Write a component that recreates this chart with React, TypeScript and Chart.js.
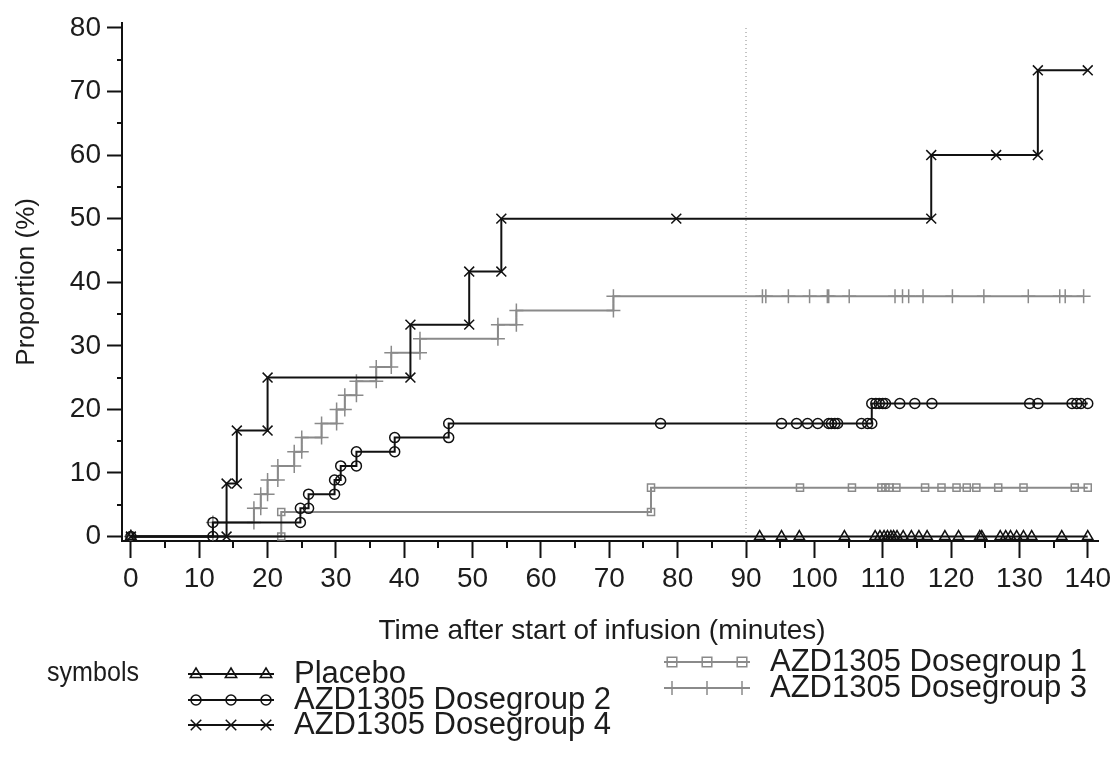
import React, { useEffect, useRef } from 'react';
import { Chart, registerables } from 'chart.js';

Chart.register(...registerables);

// ---- axis ticks ----
const xTicks = [0, 10, 20, 30, 40, 50, 60, 70, 80, 90, 100, 110, 120, 130, 140];
const xMinorTicks = [5, 15, 25, 35, 45, 55, 65, 75, 85, 95, 105, 115, 125, 135];
const yTicks = [0, 10, 20, 30, 40, 50, 60, 70, 80];
const yMinorTicks = [5, 15, 25, 35, 45, 55, 65, 75];

// ---- series (time in minutes, proportion in %) ----
const placeboT = [0, 92.0, 95.2, 97.8, 104.4, 108.9, 109.6, 110.2, 110.7, 111.2, 111.6, 112.1, 113.0, 114.2, 115.3, 116.5, 119.1, 121.1, 124.2, 124.5, 127.2, 128.0, 128.7, 129.6, 130.6, 131.8, 136.2, 140];
const placeboP = [0, 0, 0, 0, 0, 0, 0, 0, 0, 0, 0, 0, 0, 0, 0, 0, 0, 0, 0, 0, 0, 0, 0, 0, 0, 0, 0, 0];

const dg1T = [0, 22, 22, 76.1, 76.1, 97.9, 105.5, 109.8, 110.4, 111.0, 112.0, 116.2, 118.6, 120.8, 122.3, 123.7, 126.9, 130.6, 138.1, 140];
const dg1P = [0, 0, 3.85, 3.85, 7.69, 7.69, 7.69, 7.69, 7.69, 7.69, 7.69, 7.69, 7.69, 7.69, 7.69, 7.69, 7.69, 7.69, 7.69, 7.69];

const dg2T = [0, 12, 12, 24.8, 24.8, 26, 26, 29.8, 29.8, 30.7, 30.7, 33, 33, 38.6, 38.6, 46.5, 46.5, 77.5, 95.2, 97.4, 99.0, 100.5, 102.1, 102.5, 103.0, 103.4, 106.9, 107.8, 108.4, 108.4, 109.0, 109.5, 110.0, 110.4, 112.5, 114.7, 117.2, 131.5, 132.7, 137.7, 138.4, 139.0, 140];
const dg2P = [0, 0, 2.22, 2.22, 4.44, 4.44, 6.67, 6.67, 8.89, 8.89, 11.11, 11.11, 13.33, 13.33, 15.56, 15.56, 17.78, 17.78, 17.78, 17.78, 17.78, 17.78, 17.78, 17.78, 17.78, 17.78, 17.78, 17.78, 17.78, 20.92, 20.92, 20.92, 20.92, 20.92, 20.92, 20.92, 20.92, 20.92, 20.92, 20.92, 20.92, 20.92, 20.92];

const dg3T = [0, 12, 12, 18, 18, 19, 19, 20, 20, 21.5, 21.5, 23.9, 23.9, 25, 25, 27.9, 27.9, 30.1, 30.1, 31.3, 31.3, 33, 33, 35.9, 35.9, 38.1, 38.1, 42.3, 42.3, 53.7, 53.7, 56.4, 56.4, 70.6, 70.6, 92.4, 92.9, 96.2, 99.3, 101.9, 102.1, 105.1, 111.8, 112.9, 113.8, 115.9, 120.2, 124.8, 131.3, 135.9, 136.7, 139.4];
const dg3P = [0, 0, 2.22, 2.22, 4.44, 4.44, 6.67, 6.67, 8.89, 8.89, 11.11, 11.11, 13.33, 13.33, 15.56, 15.56, 17.78, 17.78, 20.0, 20.0, 22.22, 22.22, 24.44, 24.44, 26.67, 26.67, 28.89, 28.89, 31.11, 31.11, 33.33, 33.33, 35.56, 35.56, 37.78, 37.78, 37.78, 37.78, 37.78, 37.78, 37.78, 37.78, 37.78, 37.78, 37.78, 37.78, 37.78, 37.78, 37.78, 37.78, 37.78, 37.78];

const dg4T = [0, 14, 14, 15.5, 15.5, 20, 20, 40.9, 40.9, 49.5, 49.5, 54.2, 54.2, 79.8, 117.1, 117.1, 126.6, 132.7, 132.7, 140];
const dg4P = [0, 0, 8.33, 8.33, 16.67, 16.67, 25, 25, 33.33, 33.33, 41.67, 41.67, 50, 50, 50, 60, 60, 60, 73.33, 73.33];

const refLineT = [90, 90];
const refLineP = [-0.7, 80];

const seriesLabels = ['Placebo', 'AZD1305 Dosegroup 1', 'AZD1305 Dosegroup 2', 'AZD1305 Dosegroup 3', 'AZD1305 Dosegroup 4'];
const xTitle = 'Time after start of infusion (minutes)';
const yTitle = 'Proportion (%)';

const FONT = "'Liberation Sans', Arial, sans-serif";
const TEXT = '#1c1c1c';
const BLACK = '#111111';
const GRAY = '#8a8a8a';

const toXY = (t: number[], p: number[]) => t.map((x, i) => ({ x, y: p[i] }));

function series(label: string, t: number[], p: number[], color: string, style: string, radius: number) {
  return {
    label,
    data: toXY(t, p),
    borderColor: color,
    borderWidth: 2,
    pointStyle: style,
    pointRadius: radius,
    pointBorderColor: color,
    pointBackgroundColor: 'rgba(0,0,0,0)',
    pointBorderWidth: 1.5,
    fill: false,
    tension: 0,
  };
}

function drawMarker(ctx: CanvasRenderingContext2D, style: string, x: number, y: number, r: number) {
  ctx.beginPath();
  if (style === 'triangle') {
    ctx.moveTo(x, y - r);
    ctx.lineTo(x + r * 0.95, y + r * 0.6);
    ctx.lineTo(x - r * 0.95, y + r * 0.6);
    ctx.closePath();
  } else if (style === 'circle') {
    ctx.arc(x, y, r, 0, Math.PI * 2);
  } else if (style === 'rect') {
    ctx.rect(x - r * 0.8, y - r * 0.8, r * 1.6, r * 1.6);
  } else if (style === 'cross') {
    ctx.moveTo(x, y - r); ctx.lineTo(x, y + r);
    ctx.moveTo(x - r, y); ctx.lineTo(x + r, y);
  } else if (style === 'crossRot') {
    const d = r * 0.75;
    ctx.moveTo(x - d, y - d); ctx.lineTo(x + d, y + d);
    ctx.moveTo(x + d, y - d); ctx.lineTo(x - d, y + d);
  }
  ctx.stroke();
}

const minorTicksPlugin = {
  id: 'minorTicks',
  afterDraw(chart: any) {
    const ctx = chart.ctx as CanvasRenderingContext2D;
    const xs = chart.scales.x;
    const ys = chart.scales.y;
    const area = chart.chartArea;
    ctx.save();
    ctx.strokeStyle = BLACK;
    ctx.lineWidth = 2;
    ctx.beginPath();
    xMinorTicks.forEach((v) => {
      const px = Math.round(xs.getPixelForValue(v));
      ctx.moveTo(px, area.bottom);
      ctx.lineTo(px, area.bottom + 7);
    });
    yMinorTicks.forEach((v) => {
      const py = Math.round(ys.getPixelForValue(v));
      ctx.moveTo(area.left - 5, py);
      ctx.lineTo(area.left, py);
    });
    ctx.stroke();
    // x-axis title
    ctx.font = `28px ${FONT}`;
    ctx.fillStyle = TEXT;
    ctx.textAlign = 'center';
    ctx.textBaseline = 'middle';
    ctx.fillText(xTitle, 602, 631);
    ctx.restore();
  },
};

const legendItems = [
  { idx: 0, color: BLACK, style: 'triangle', x: 188, y: 674, r: 6 },
  { idx: 2, color: BLACK, style: 'circle', x: 188, y: 700, r: 5 },
  { idx: 4, color: BLACK, style: 'crossRot', x: 188, y: 725, r: 7 },
  { idx: 1, color: GRAY, style: 'rect', x: 664, y: 662, r: 6 },
  { idx: 3, color: GRAY, style: 'cross', x: 664, y: 688, r: 7 },
];

const legendPlugin = {
  id: 'customLegend',
  afterDraw(chart: any) {
    const ctx = chart.ctx as CanvasRenderingContext2D;
    ctx.save();
    ctx.fillStyle = TEXT;
    ctx.textBaseline = 'middle';
    ctx.textAlign = 'left';
    ctx.font = `27px ${FONT}`;
    ctx.fillText('symbols', 47, 674, 92);
    ctx.font = `31px ${FONT}`;
    legendItems.forEach((it) => {
      ctx.strokeStyle = it.color;
      ctx.lineWidth = 2;
      ctx.beginPath();
      ctx.moveTo(it.x, it.y);
      ctx.lineTo(it.x + 86, it.y);
      ctx.stroke();
      ctx.lineWidth = 1.5;
      [8, 43, 78].forEach((dx) => drawMarker(ctx, it.style, it.x + dx, it.y, it.r));
      ctx.fillStyle = TEXT;
      ctx.fillText(seriesLabels[it.idx], it.x + 106, it.y);
    });
    ctx.restore();
  },
};

export default function App() {
  const ref = useRef<HTMLCanvasElement>(null);
  useEffect(() => {
    document.body.style.margin = '0';
    const chart = new Chart(ref.current as HTMLCanvasElement, {
      type: 'line',
      data: {
        datasets: [
          series(seriesLabels[0], placeboT, placeboP, BLACK, 'triangle', 6),
          series(seriesLabels[2], dg2T, dg2P, BLACK, 'circle', 5),
          series(seriesLabels[4], dg4T, dg4P, BLACK, 'crossRot', 7),
          series(seriesLabels[1], dg1T, dg1P, GRAY, 'rect', 5),
          series(seriesLabels[3], dg3T, dg3P, GRAY, 'cross', 7),
          {
            label: 'ref',
            data: toXY(refLineT, refLineP),
            borderColor: '#888888',
            borderWidth: 1,
            borderDash: [1, 3],
            pointRadius: 0,
            fill: false,
          },
        ] as any,
      },
      options: {
        responsive: false,
        animation: false,
        devicePixelRatio: 1,
        layout: { padding: { top: 16, right: 20, bottom: 98, left: 0 } },
        plugins: { legend: { display: false }, tooltip: { enabled: false } },
        scales: {
          x: {
            type: 'linear',
            min: -1.3,
            max: 141.5,
            bounds: 'data',
            afterBuildTicks: (s: any) => { s.ticks = xTicks.map((v) => ({ value: v })); },
            afterFit: (s: any) => { s.height = 120; },
            grid: { drawOnChartArea: false, drawTicks: true, tickLength: 17, tickColor: BLACK, tickWidth: 2 },
            border: { display: true, color: BLACK, width: 2 },
            ticks: { color: TEXT, font: { family: FONT, size: 28 }, padding: 4, maxRotation: 0, autoSkip: false },
            title: { display: false },
          },
          y: {
            type: 'linear',
            min: -0.7,
            max: 80.8,
            bounds: 'data',
            afterBuildTicks: (s: any) => { s.ticks = yTicks.map((v) => ({ value: v })); },
            afterFit: (s: any) => { s.width = 122; },
            grid: { drawOnChartArea: false, drawTicks: true, tickLength: 15, tickColor: BLACK, tickWidth: 2 },
            border: { display: true, color: BLACK, width: 2 },
            ticks: { color: TEXT, font: { family: FONT, size: 28 }, padding: 6, autoSkip: false },
            title: { display: true, text: yTitle, color: TEXT, font: { family: FONT, size: 26 }, padding: { top: 11, bottom: 0 } },
          },
        },
      } as any,
      plugins: [minorTicksPlugin, legendPlugin],
    });
    return () => chart.destroy();
  }, []);
  return (
    <div style={{ width: 1118, height: 759 }}>
      <canvas ref={ref} width={1118} height={759} style={{ display: 'block' }} />
    </div>
  );
}
